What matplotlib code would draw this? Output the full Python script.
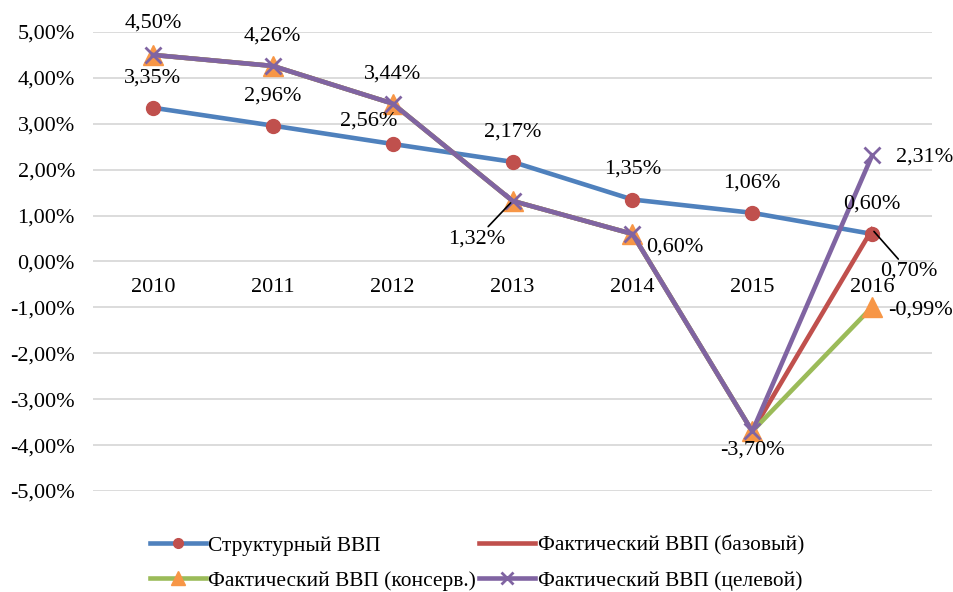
import matplotlib.pyplot as plt

# Data
years = ['2010', '2011', '2012', '2013', '2014', '2015', '2016']
structural = [3.35, 2.96, 2.56, 2.17, 1.35, 1.06, 0.60]
actual_base = [4.50, 4.26, 3.44, 1.32, 0.60, -3.70, 0.70]
actual_cons = [4.50, 4.26, 3.44, 1.32, 0.60, -3.70, -0.99]
actual_target = [4.50, 4.26, 3.44, 1.32, 0.60, -3.70, 2.31]
y_ticks = [5, 4, 3, 2, 1, 0, -1, -2, -3, -4, -5]

plt.rcParams['font.family'] = ['Liberation Serif', 'DejaVu Serif']

fig = plt.figure(figsize=(9.54, 5.92), dpi=100)
ax = fig.add_axes([0.0975, 0.1706, 0.8795, 0.7754])

x = list(range(len(years)))
l1, = ax.plot(x, structural, color='#4F81BD', lw=3.3, marker='o', ms=10,
              mfc='#C0504D', mec='#C0504D', zorder=3, label='Структурный ВВП')
l2, = ax.plot(x, actual_base, color='#C0504D', lw=3.3, zorder=4,
              label='Фактический ВВП (базовый)')
l3, = ax.plot(x, actual_cons, color='#9BBB59', lw=3.3, marker='^', ms=15,
              mfc='#F79646', mec='#F79646', zorder=5,
              label='Фактический ВВП (консерв.)')
l4, = ax.plot(x, actual_target, color='#8064A2', lw=3.3, marker='x', ms=12,
              mew=2, zorder=6, label='Фактический ВВП (целевой)')

ax.set_xlim(-0.5, len(years) - 0.5)
ax.set_ylim(-5, 5)
ax.set_yticks(y_ticks)
ax.set_yticklabels([f'{v:.2f}%'.replace('.', ',') for v in y_ticks])
ax.grid(axis='y', color='#D9D9D9', lw=1.3)
ax.set_axisbelow(True)
for s in ax.spines.values():
    s.set_visible(False)
ax.spines['bottom'].set_position(('data', 0))
ax.set_xticks(x)
ax.set_xticklabels(years)
ax.tick_params(axis='x', length=0, pad=12, labelsize=16)
ax.tick_params(axis='y', length=0, pad=13, labelsize=16)


def fmt(v):
    return f'{v:.2f}%'.replace('.', ',')


def lab(series, i, dx, dy, ha='center', leader=False):
    kw = {}
    if leader:
        kw['arrowprops'] = dict(arrowstyle='-', color='black', lw=1.2,
                                shrinkA=0, shrinkB=2)
    ax.annotate(fmt(series[i]), (i, series[i]), xytext=(dx, dy),
                textcoords='offset pixels', ha=ha, va='center',
                fontsize=16, zorder=10, annotation_clip=False, **kw)


# structural labels
for i in range(len(years)):
    if i == 2:
        lab(structural, i, -24, 23)
    else:
        lab(structural, i, 0, 30)

# actual labels (shared part)
lab(actual_target, 0, 0, 32)
lab(actual_target, 1, 0, 30)
lab(actual_target, 2, 0, 30)
lab(actual_target, 3, -36, -38, leader=True)
lab(actual_target, 4, 14, -13, ha='left')
lab(actual_target, 5, 0, -19)
lab(actual_target, 6, 24, -2, ha='left')
lab(actual_base, 6, 37, -42, leader=True)
lab(actual_cons, 6, 16, -3, ha='left')

fig.legend([l1, l3, l2, l4], [l1.get_label(), l3.get_label(), l2.get_label(), l4.get_label()],
           loc='lower center', bbox_to_anchor=(0.5, -0.03), ncol=2, frameon=False,
           fontsize=15.4, handlelength=2.6, handletextpad=0.12, columnspacing=0.15,
           labelspacing=0.7, markerscale=0.7)

fig.savefig('out.png', dpi=100)
